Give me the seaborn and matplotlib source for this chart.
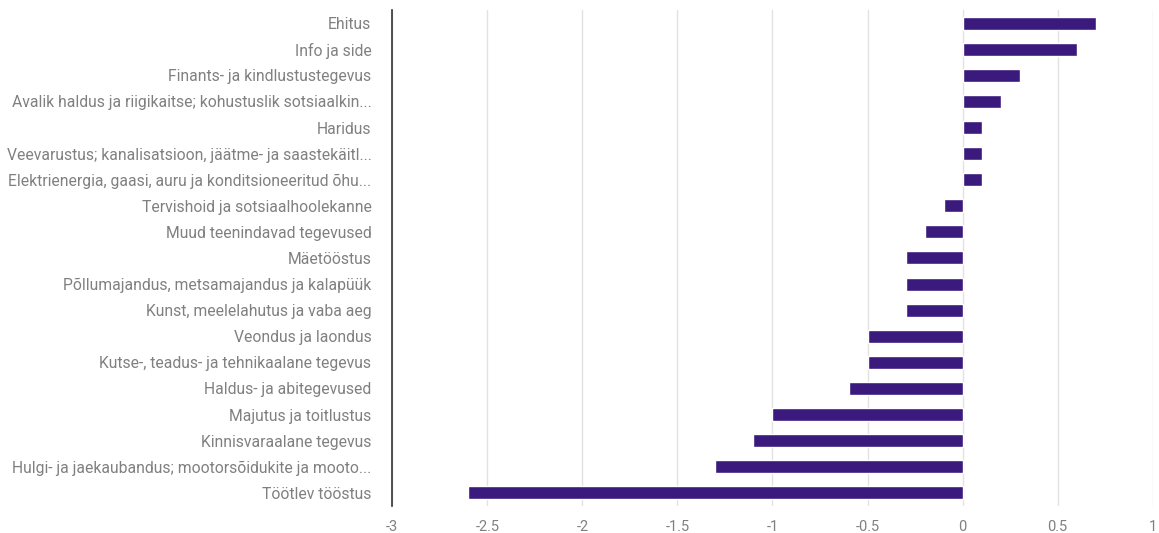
import matplotlib
matplotlib.use("Agg")
import matplotlib.pyplot as plt
import seaborn as sns
import pandas as pd

categories = [
    "Ehitus",
    "Info ja side",
    "Finants- ja kindlustustegevus",
    "Avalik haldus ja riigikaitse; kohustuslik sotsiaalkin...",
    "Haridus",
    "Veevarustus; kanalisatsioon, jäätme- ja saastekäitl...",
    "Elektrienergia, gaasi, auru ja konditsioneeritud õhu...",
    "Tervishoid ja sotsiaalhoolekanne",
    "Muud teenindavad tegevused",
    "Mäetööstus",
    "Põllumajandus, metsamajandus ja kalapüük",
    "Kunst, meelelahutus ja vaba aeg",
    "Veondus ja laondus",
    "Kutse-, teadus- ja tehnikaalane tegevus",
    "Haldus- ja abitegevused",
    "Majutus ja toitlustus",
    "Kinnisvaraalane tegevus",
    "Hulgi- ja jaekaubandus; mootorsõidukite ja mooto...",
    "Töötlev tööstus",
]
values = [0.7, 0.6, 0.3, 0.2, 0.1, 0.1, 0.1, -0.1, -0.2, -0.3, -0.3, -0.3,
          -0.5, -0.5, -0.6, -1.0, -1.1, -1.3, -2.6]
x_ticks = [-3, -2.5, -2, -1.5, -1, -0.5, 0, 0.5, 1]
x_tick_labels = ["-3", "-2.5", "-2", "-1.5", "-1", "-0.5", "0", "0.5", "1"]

df = pd.DataFrame({"category": categories, "value": values})

sns.set_theme(style="white")
plt.rcParams["font.family"] = ["Roboto", "DejaVu Sans"]

fig = plt.figure(figsize=(11.59, 5.33), dpi=100)
ax = fig.add_axes([0.3385, 0.051, 0.656, 0.93])

sns.barplot(data=df, x="value", y="category", orient="h", color="#3b1a7e",
            saturation=1, width=0.5, ax=ax)

ax.set_xlim(-3, 1)
ax.set_ylim(len(categories) - 0.5, -0.5)
ax.set_xticks(x_ticks)
ax.set_xticklabels(x_tick_labels)
ax.set_xlabel("")
ax.set_ylabel("")
ax.tick_params(axis="both", length=0, colors="#808080")
ax.tick_params(axis="x", pad=10, labelsize=10.5)
ax.tick_params(axis="y", pad=15, labelsize=11.3)
ax.xaxis.grid(True, color="#e2e2e2", linewidth=1)
ax.set_axisbelow(True)
for s in ["top", "right", "bottom"]:
    ax.spines[s].set_visible(False)
ax.spines["left"].set_color("#333333")
ax.spines["left"].set_linewidth(1.2)

fig.savefig("out.png", dpi=100)
